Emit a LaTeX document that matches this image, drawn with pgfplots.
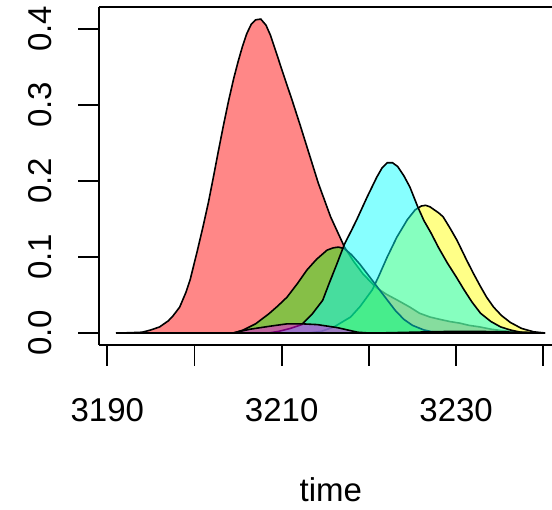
\documentclass[border=0pt]{standalone}
\usepackage{pgfplots}
\pgfplotsset{compat=1.18}
\usepackage{fontspec}
\setmainfont{Liberation Sans}
\definecolor{rred}{RGB}{255,0,0}
\definecolor{ryellow}{RGB}{255,255,0}
\definecolor{rgreen}{RGB}{0,255,0}
\definecolor{rcyan}{RGB}{0,255,255}
\definecolor{rblue}{RGB}{0,0,255}
\definecolor{rmagenta}{RGB}{255,0,255}
\begin{document}
\begin{tikzpicture}
\path[use as bounding box] (-99pt,-165pt) rectangle (453pt,345pt);
\begin{axis}[
  at={(0,0)}, anchor=south west,
  scale only axis, width=453pt, height=338pt,
  xmin=3189.05, xmax=3241.0, ymin=-0.0158, ymax=0.4289,
  axis x line*=box, axis y line*=left,
  xtick pos=bottom, ytick pos=left,
  xtick={3190,3200,3210,3220,3230,3240},
  xticklabels={3190,,3210,,3230,},
  ytick={0,0.1,0.2,0.3,0.4},
  yticklabels={0.0,0.1,0.2,0.3,0.4},
  tick align=outside, major tick length=21pt,
  tick style={black, line width=1.7pt},
  axis line style={black, line width=1.7pt},
  ticklabel style={font=\fontsize{33}{38}\selectfont, inner sep=0pt},
  xticklabel style={anchor=north},
  yticklabel style={rotate=90, anchor=south},
  xticklabel shift=32pt,
  yticklabel shift=26pt,
  xlabel={time},
  xlabel style={font=\fontsize{33}{38}\selectfont, inner sep=0pt,
    at={(axis description cs:0,0)}, anchor=center, xshift=231.8pt, yshift=-145pt},
  clip=false,
  every axis plot/.append style={draw=black, line width=1.6pt, fill opacity=0.47},
]
% red
\addplot[fill=rred] coordinates {
(3191,0) (3192.5,0.0003) (3194,0.001) (3195,0.004) (3196,0.008) (3197,0.016) (3197.5,0.022)
(3198.3,0.034) (3199,0.053) (3199.5,0.07) (3200.3,0.107) (3201,0.141) (3201.6,0.172)
(3202.2,0.207) (3202.7,0.237) (3203.3,0.272) (3203.9,0.305) (3204.5,0.335) (3205,0.357)
(3205.5,0.377) (3206,0.394) (3206.5,0.406) (3207,0.412) (3207.6,0.413) (3208.2,0.405)
(3208.7,0.392) (3209.2,0.375) (3210.2,0.340) (3211.2,0.306) (3212.1,0.274) (3213,0.241)
(3214.2,0.197) (3215.6,0.153) (3217.2,0.113) (3218.2,0.095) (3219.3,0.078) (3220.8,0.060)
(3222,0.051) (3223.3,0.043) (3224.7,0.034) (3225.8,0.026) (3227,0.021) (3228.1,0.018)
(3229.3,0.015) (3230.4,0.013) (3231.5,0.010) (3232.7,0.008) (3234,0.005) (3235.3,0.003)
(3237.2,0.001) (3239,0.0003) (3240.2,0)
} \closedcycle;
% yellow
\addplot[fill=ryellow] coordinates {
(3213,0) (3214.5,0.002) (3216,0.008) (3217.9,0.021) (3219,0.035) (3220.4,0.057) (3221.1,0.074)
(3222.1,0.100) (3223.2,0.126) (3224.4,0.149) (3225.3,0.162) (3226,0.167) (3226.5,0.168)
(3227,0.166) (3228,0.158) (3228.5,0.153) (3229.3,0.138) (3230.1,0.122) (3231.2,0.096)
(3232,0.078) (3232.8,0.061) (3233.5,0.047) (3234.3,0.034) (3235.2,0.023) (3236.2,0.014)
(3237.5,0.006) (3238.9,0.0015) (3240.2,0)
} \closedcycle;
% green
\addplot[fill=rgreen] coordinates {
(3204.5,0) (3205.6,0.004) (3207,0.012) (3208.5,0.025) (3209.5,0.035) (3210.6,0.047)
(3211.8,0.065) (3212.9,0.083) (3214,0.097) (3215.2,0.109) (3215.9,0.112) (3216.5,0.113)
(3217.2,0.111) (3218,0.103) (3219,0.090) (3220,0.075) (3220.8,0.063) (3222,0.045)
(3223,0.030) (3224,0.018) (3225,0.010) (3226.3,0.004) (3227.5,0.001) (3229,0)
} \closedcycle;
% cyan
\addplot[fill=rcyan] coordinates {
(3208.5,0) (3209.6,0.002) (3211,0.006) (3212.3,0.011) (3213.5,0.025) (3214.7,0.043)
(3215.5,0.067) (3216.3,0.090) (3217.2,0.117) (3218,0.135) (3218.6,0.149) (3219.8,0.179)
(3220.9,0.205) (3221.5,0.217) (3222.1,0.224) (3222.7,0.224) (3223.3,0.219) (3224,0.207)
(3224.7,0.192) (3225.6,0.166) (3226.3,0.148) (3227.1,0.132) (3228,0.112) (3229,0.092)
(3230,0.074) (3230.9,0.057) (3231.8,0.041) (3232.8,0.026) (3234,0.015) (3235.1,0.008)
(3236.2,0.004) (3237.4,0.001) (3239,0)
} \closedcycle;
% blue
\addplot[fill=rblue] coordinates {
(3221,0) (3225,0.001) (3229,0.002) (3233,0.002) (3237,0.001) (3240,0)
} \closedcycle;
% magenta
\addplot[fill=rmagenta] coordinates {
(3204.4,0) (3206.4,0.005) (3208.7,0.009) (3210.6,0.012) (3212.4,0.012) (3214.1,0.011)
(3216.4,0.007) (3218.7,0.001) (3220,0)
} \closedcycle;
\end{axis}
\end{tikzpicture}
\end{document}
